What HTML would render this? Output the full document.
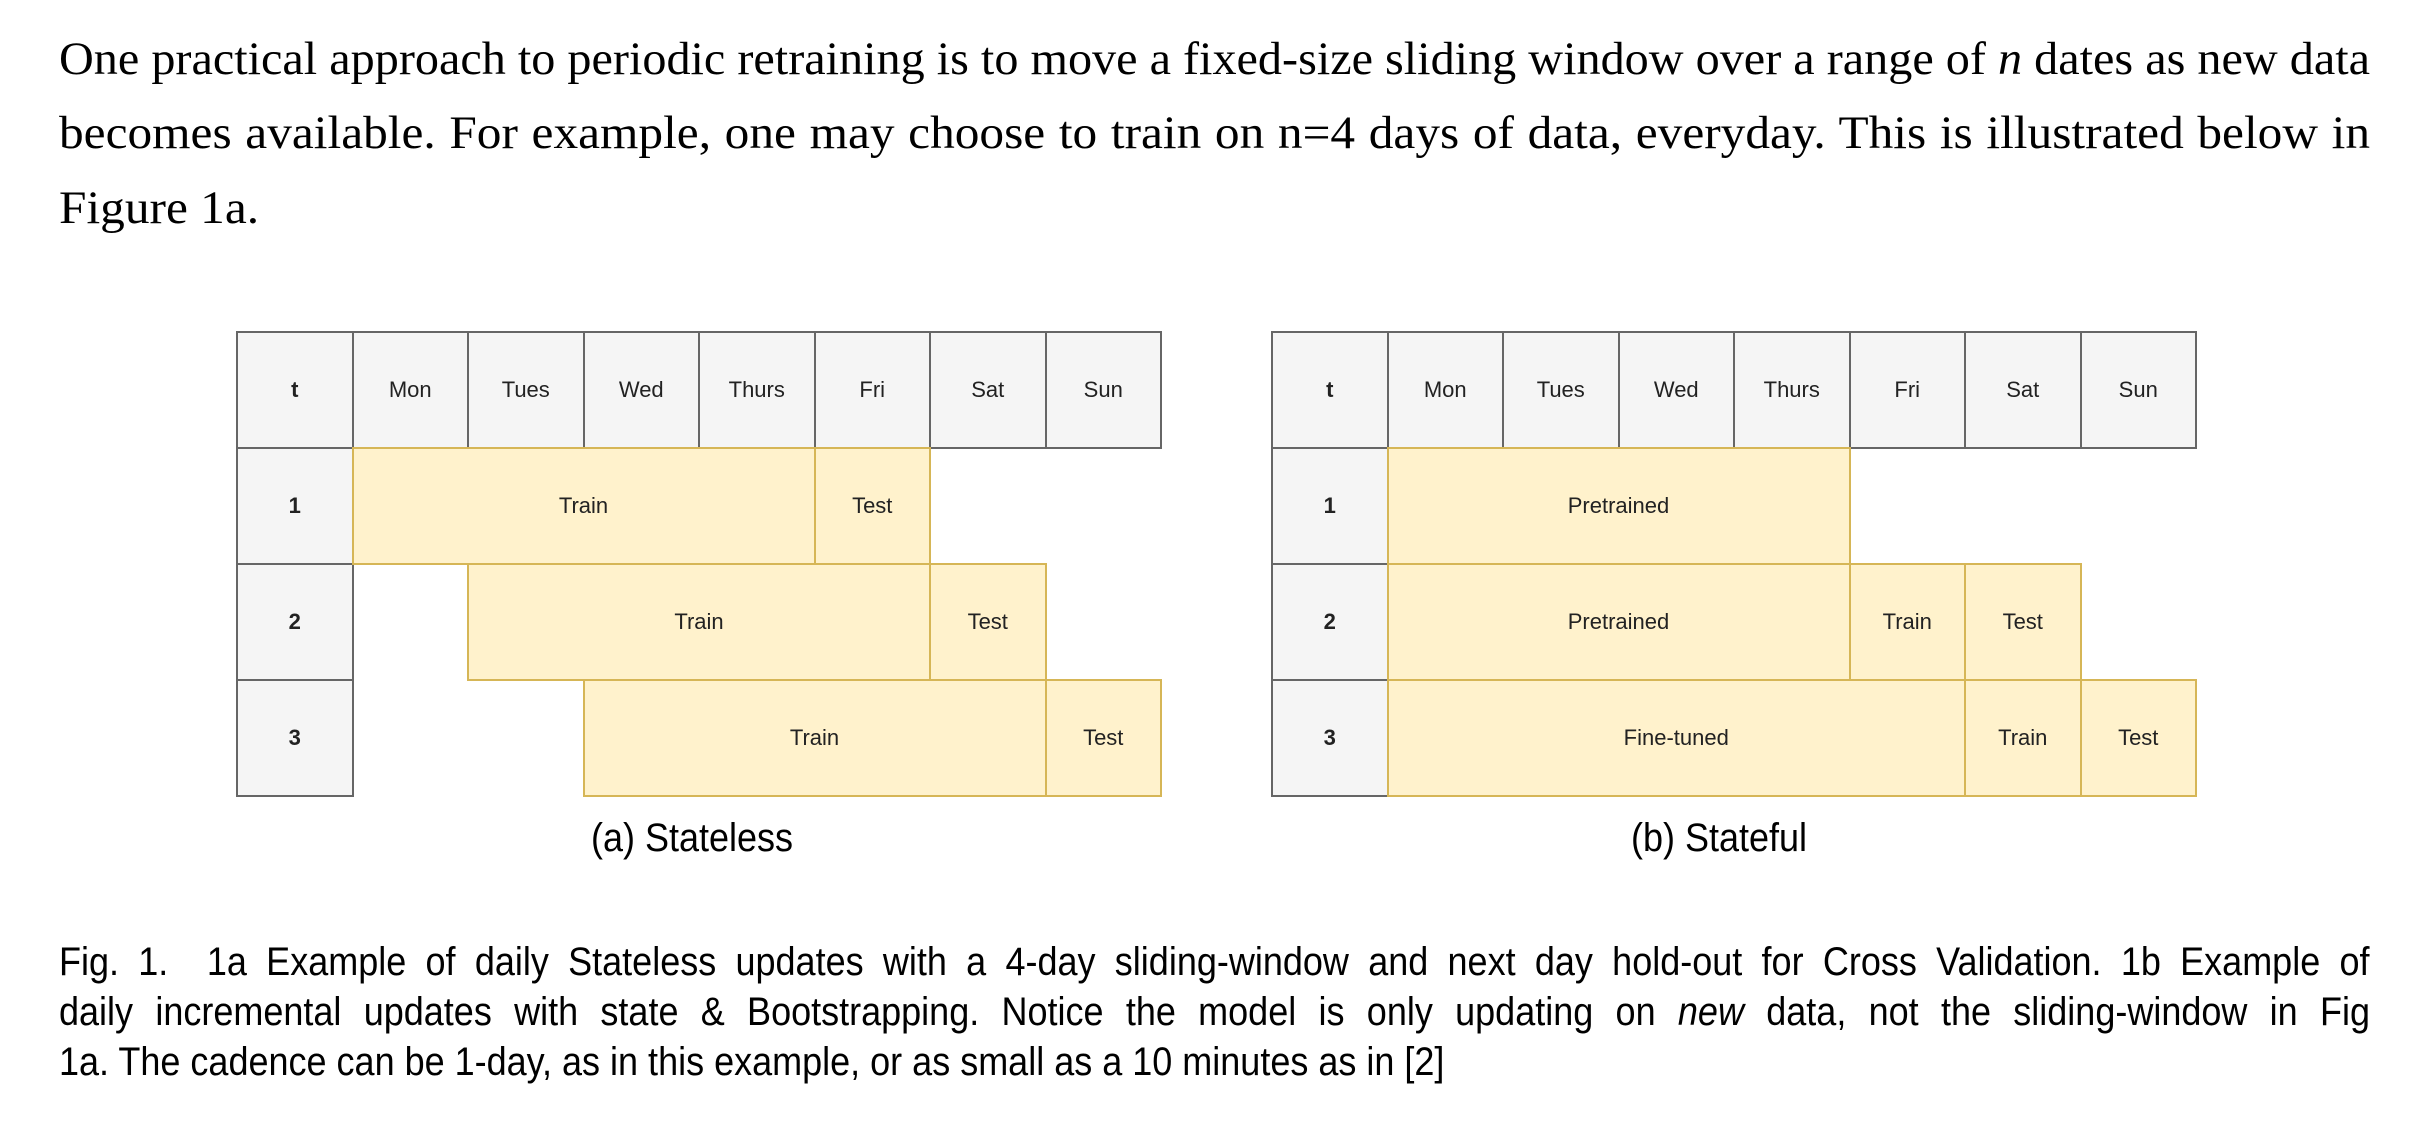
<!DOCTYPE html>
<html><head><meta charset="utf-8"><style>
*{margin:0;padding:0;box-sizing:border-box}
body{width:2422px;height:1122px;background:#fff;position:relative;overflow:hidden}
.ln{position:absolute;left:59px;transform-origin:0 0;color:#000;white-space:nowrap}
.ser{font-family:"Liberation Serif",serif;font-size:47px;line-height:60px}
.sans{font-family:"Liberation Sans",sans-serif;font-size:40px;line-height:50px}
.c{position:absolute;display:flex;align-items:center;justify-content:center;font-family:"Liberation Sans",sans-serif;font-size:22px;color:#222}
.h{background:#f5f5f5;border:2px solid #666}
.y{background:#fff2cc;border:2px solid #d6b656}
.cap{position:absolute;font-family:"Liberation Sans",sans-serif;font-size:40px;transform:scaleX(0.9);transform-origin:50% 0;text-align:center;width:400px}
</style></head><body>
<div class="ln ser j" data-s="1.05" style="top:29px">One practical approach to periodic retraining is to move a fixed-size sliding window over a range of <i>n</i> dates as new data</div>
<div class="ln ser j" data-s="1.05" style="top:103px">becomes available. For example, one may choose to train on n=4 days of data, everyday. This is illustrated below in</div>
<div class="ln ser" style="top:178px;transform:scaleX(1.05)">Figure 1a.</div>

<div class="cap" style="left:492px;top:816px">(a) Stateless</div>
<div class="cap" style="left:1519px;top:816px">(b) Stateful</div>

<div class="ln sans j" data-s="0.9" style="top:937px">Fig. 1.&nbsp; 1a Example of daily Stateless updates with a 4-day sliding-window and next day hold-out for Cross Validation. 1b Example of</div>
<div class="ln sans j" data-s="0.9" style="top:987px">daily incremental updates with state &amp; Bootstrapping. Notice the model is only updating on <i>new</i> data, not the sliding-window in Fig</div>
<div class="ln sans" style="top:1037px;transform:scaleX(0.9)">1a. The cadence can be 1-day, as in this example, or as small as a 10 minutes as in [2]</div>

<script>
function cell(x0,y0,col,row,span,cls,txt,bold){
  var W=115.5,H=116;
  var d=document.createElement('div');
  d.className='c '+cls;
  d.style.left=(x0+col*W)+'px';d.style.top=(y0+row*H)+'px';
  d.style.width=(W*span+2)+'px';d.style.height=(H+2)+'px';
  d.textContent=txt;if(bold)d.style.fontWeight='bold';
  document.body.appendChild(d);
}
var days=['Mon','Tues','Wed','Thurs','Fri','Sat','Sun'];
[236,1271].forEach(function(x){
  cell(x,331,0,0,1,'h','t',1);
  days.forEach(function(dd,i){cell(x,331,i+1,0,1,'h',dd)});
  for(var r=1;r<=3;r++)cell(x,331,0,r,1,'h',String(r),1);
});
var a=236;
cell(a,331,1,1,4,'y','Train');cell(a,331,5,1,1,'y','Test');
cell(a,331,2,2,4,'y','Train');cell(a,331,6,2,1,'y','Test');
cell(a,331,3,3,4,'y','Train');cell(a,331,7,3,1,'y','Test');
var b=1271;
cell(b,331,1,1,4,'y','Pretrained');
cell(b,331,1,2,4,'y','Pretrained');cell(b,331,5,2,1,'y','Train');cell(b,331,6,2,1,'y','Test');
cell(b,331,1,3,5,'y','Fine-tuned');cell(b,331,6,3,1,'y','Train');cell(b,331,7,3,1,'y','Test');

var T=2311;
document.querySelectorAll('.j').forEach(function(el){
  var s=parseFloat(el.getAttribute('data-s'));
  var w=el.getBoundingClientRect().width;
  var n=(el.textContent.match(/ /g)||[]).length;
  if(w*s>T){s=T/w;}
  var extra=(T/s-w)/n;
  el.style.wordSpacing=extra+'px';
  el.style.transform='scaleX('+s+')';
  var w2=el.getBoundingClientRect().width;
  if(Math.abs(w2-T)>1){el.style.wordSpacing=(extra+(T-w2)/s/n)+'px';}
});
</script>
</body></html>
